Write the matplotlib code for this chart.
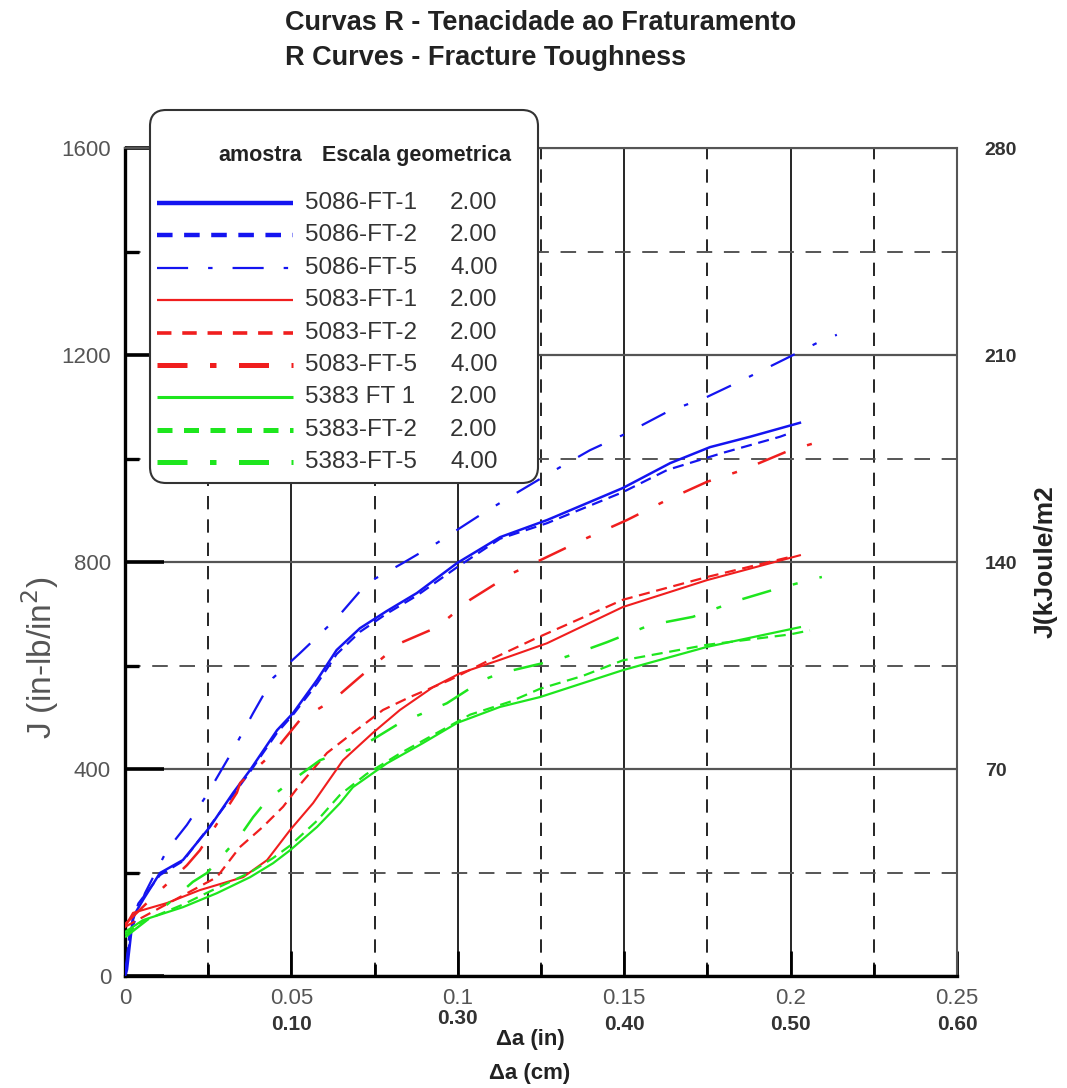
import numpy as np
import matplotlib
matplotlib.use("Agg")
import matplotlib.pyplot as plt
from matplotlib.ticker import FixedLocator
from matplotlib.patches import FancyBboxPatch
import matplotlib.transforms as mtransforms

plt.rcParams['font.family'] = ['Liberation Sans', 'DejaVu Sans']

# ---- data (da in inches, J in in-lb/in^2) ----
names = ["5086-FT-1", "5086-FT-2", "5086-FT-5",
         "5083-FT-1", "5083-FT-2", "5083-FT-5",
         "5383 FT 1", "5383-FT-2", "5383-FT-5"]
scales = ["2.00", "2.00", "4.00", "2.00", "2.00", "4.00", "2.00", "2.00", "4.00"]

x_5086_1 = [0, 0.0006, 0.0024, 0.0054, 0.0105, 0.0174, 0.0255, 0.0325, 0.0376, 0.0457,
            0.0505, 0.0577, 0.0636, 0.0706, 0.0786, 0.0877, 0.0998, 0.1127, 0.1268, 0.1496,
            0.1638, 0.1758, 0.1878, 0.2028]
J_5086_1 = [0, 12, 114, 147, 199, 224, 288, 354, 398, 475,
            508, 572, 630, 672, 705, 740, 798, 848, 881, 943,
            991, 1022, 1042, 1069]

x_5086_2 = [0, 0.0015, 0.004, 0.0105, 0.0174, 0.0255, 0.0325, 0.0376, 0.0457, 0.0505,
            0.0577, 0.0636, 0.0706, 0.0786, 0.0877, 0.0998, 0.1127, 0.1268, 0.1496, 0.163,
            0.1797, 0.1968, 0.1998]
J_5086_2 = [0, 90, 140, 195, 222, 290, 350, 395, 470, 505,
            565, 622, 665, 700, 735, 790, 845, 875, 935, 978,
            1011, 1042, 1049]

x_5086_5 = [0, 0.002, 0.006, 0.0126, 0.0186, 0.0246, 0.0325, 0.0385, 0.0445, 0.0526,
            0.0637, 0.0727, 0.0835, 0.0938, 0.1058, 0.1157, 0.1277, 0.1397, 0.1508,
            0.1629, 0.1749, 0.1857, 0.1989, 0.2097, 0.2139]
J_5086_5 = [10, 90, 160, 243, 292, 350, 437, 508, 576, 624,
            692, 759, 798, 837, 887, 926, 972, 1016, 1049,
            1090, 1119, 1152, 1194, 1229, 1239]

x_5083_1 = [0, 0.0024, 0.0126, 0.0225, 0.0355, 0.0427, 0.0496, 0.0565, 0.0655, 0.0745,
            0.0826, 0.0925, 0.1007, 0.1127, 0.1268, 0.1496, 0.1749, 0.2028]
J_5083_1 = [95, 122, 141, 166, 191, 224, 282, 334, 417, 470,
            514, 558, 585, 611, 643, 713, 765, 813]

x_5083_2 = [0, 0.01, 0.0276, 0.0345, 0.0414, 0.0475, 0.0526, 0.0607, 0.0685, 0.0775,
            0.0856, 0.0976, 0.1097, 0.1226, 0.1496, 0.1749, 0.2]
J_5083_2 = [95, 130, 191, 249, 288, 327, 370, 431, 470, 514,
            539, 572, 611, 650, 727, 771, 810]

x_5083_5 = [0, 0.008, 0.0186, 0.0225, 0.0336, 0.0346, 0.0445, 0.0526, 0.0625, 0.0706,
            0.0826, 0.0938, 0.1037, 0.1166, 0.1256, 0.1376, 0.1508, 0.1629, 0.1749,
            0.1857, 0.1998, 0.2127]
J_5083_5 = [100, 150, 214, 243, 354, 373, 431, 495, 533, 578,
            643, 674, 727, 779, 806, 843, 881, 920, 955,
            978, 1016, 1040]

x_5383_1 = [0, 0.0054, 0.0174, 0.0276, 0.0376, 0.0445, 0.0496, 0.0577, 0.0646, 0.0685,
            0.0787, 0.0895, 0.0998, 0.1127, 0.1247, 0.1496, 0.1749, 0.2028]
J_5383_1 = [85, 108, 133, 160, 191, 218, 243, 288, 334, 365,
            411, 450, 489, 520, 539, 591, 636, 674]

x_5383_2 = [0, 0.005, 0.0174, 0.0276, 0.0376, 0.0445, 0.0496, 0.0577, 0.0646, 0.0725,
            0.0826, 0.0938, 0.1037, 0.1157, 0.1247, 0.1376, 0.1496, 0.1749, 0.1998, 0.2058]
J_5383_2 = [80, 105, 138, 170, 200, 228, 252, 300, 350, 390,
            430, 470, 505, 530, 555, 580, 610, 640, 660, 668]

x_5383_5 = [0, 0.005, 0.013, 0.0204, 0.0246, 0.0345, 0.0385, 0.0427, 0.0505, 0.0586,
            0.0646, 0.0727, 0.0826, 0.0967, 0.1076, 0.1127, 0.1298, 0.1358, 0.1448,
            0.1577, 0.1706, 0.1848, 0.1947, 0.2079, 0.2094]
J_5383_5 = [75, 100, 140, 182, 199, 270, 307, 340, 379, 417,
            431, 450, 489, 527, 572, 585, 611, 624, 645,
            678, 694, 727, 746, 769, 771]

xs = [x_5086_1, x_5086_2, x_5086_5, x_5083_1, x_5083_2, x_5083_5, x_5383_1, x_5383_2, x_5383_5]
Js = [J_5086_1, J_5086_2, J_5086_5, J_5083_1, J_5083_2, J_5083_5, J_5383_1, J_5383_2, J_5383_5]

# axis ticks and labels
x_major = [0, 0.05, 0.1, 0.15, 0.2, 0.25]
x_major_lab = ["0", "0.05", "0.1", "0.15", "0.2", "0.25"]
x_minor = [0.025, 0.075, 0.125, 0.175, 0.225]
y_major = [0, 400, 800, 1200, 1600]
y_minor = [200, 600, 1000, 1400]
y2_ticks = [70, 140, 210, 280]
cm_pos = [0.05, 0.1, 0.15, 0.2, 0.25]
cm_lab = ["0.10", "0.30", "0.40", "0.50", "0.60"]

BLUE, RED, GREEN = "#1414f0", "#f01e1e", "#1ee61e"
colors = [BLUE] * 3 + [RED] * 3 + [GREEN] * 3
dash_ = (0, (5, 3))
dashdot_ = (0, (12, 9, 2, 9))
styles = ["-", dash_, dashdot_] * 3
# line widths in the plot and in the legend box
lw_plot = [1.8, 1.6, 1.6, 1.5, 1.6, 1.8, 1.6, 1.6, 1.8]
lw_leg = [3.2, 3.2, 1.6, 1.6, 2.6, 3.6, 2.2, 3.6, 3.6]
leg_styles = ["-", (0, (3.5, 2.6)), (0, (14, 9, 2, 9)),
              "-", (0, (4, 3)), (0, (6, 4.5, 1.3, 4.5)),
              "-", (0, (3, 2.3)), (0, (6, 4.5, 1.3, 4.5))]

W, H = 1067, 1088
fig = plt.figure(figsize=(W / 100, H / 100), dpi=100)
ax = fig.add_axes([125 / W, 1 - 976 / H, (957 - 125) / W, (976 - 148) / H])

for x, J, c, ls, lw in zip(xs, Js, colors, styles, lw_plot):
    ax.plot(x, J, color=c, linestyle=ls, lw=lw, zorder=3)

ax.set_xlim(0, 0.25)
ax.set_ylim(0, 1600)
ax.set_xticks(x_major)
ax.set_xticklabels(x_major_lab)
ax.set_xticks(x_minor, minor=True)
ax.set_yticks(y_major)
ax.set_yticklabels([str(v) for v in y_major])
ax.set_yticks(y_minor, minor=True)

ax.grid(which="major", axis="x", color="black", lw=1.2)
ax.grid(which="minor", axis="x", color="black", lw=1.2, linestyle=(0, (8, 6)))
ax.grid(which="major", axis="y", color="#555555", lw=1.6)
ax.grid(which="minor", axis="y", color="#555555", lw=1.4, linestyle=(0, (8, 6)))
ax.set_axisbelow(True)

ax.tick_params(which="both", direction="in", colors="black", labelcolor="#555555",
               labelsize=16, width=2)
ax.tick_params(axis="y", which="major", length=28, width=2.6, pad=10)
ax.tick_params(axis="y", which="minor", length=10, width=2.4)
ax.tick_params(axis="x", which="major", length=18, pad=9)
ax.tick_params(axis="x", which="minor", length=9)
ax.tick_params(top=False, right=False, which="both")

ax.spines["left"].set_linewidth(2.4)
ax.spines["bottom"].set_linewidth(2.4)
for s in ("top", "right"):
    ax.spines[s].set_color("#555555")
    ax.spines[s].set_linewidth(1.5)

# right axis in kJ/m2
ax2 = ax.twinx()
ax2.set_ylim(0, 280)
ax2.yaxis.set_major_locator(FixedLocator(y2_ticks))
ax2.tick_params(length=0, pad=20, labelsize=14, labelcolor="#333333")
for t in ax2.get_yticklabels():
    t.set_fontweight("bold")
for s in ax2.spines.values():
    s.set_visible(False)

# second row of x labels (cm)
cm_dy = [-49, -42, -49, -49, -49]
for p, lab, dy in zip(cm_pos, cm_lab, cm_dy):
    tr = mtransforms.offset_copy(ax.get_xaxis_transform(), fig=fig, x=0, y=dy, units="dots")
    ax.text(p, 0, lab, transform=tr, ha="center", va="center", fontsize=15,
            fontweight="bold", color="#333333")

fig.text(530 / W, 1 - 1040 / H, "Δa (in)", ha="center", va="center", fontsize=16,
         fontweight="bold", color="#222222")
fig.text(530 / W, 1 - 1074 / H, "Δa (cm)", ha="center", va="center", fontsize=16,
         fontweight="bold", color="#222222")
fig.text(40 / W, 1 - 658 / H, "J (in-lb/in$^2$)", rotation=90, ha="center", va="center",
         fontsize=24, color="#555555")
fig.text(1046 / W, 1 - 562 / H, "J(kJoule/m2", rotation=90, ha="center", va="center",
         fontsize=19, fontweight="bold", color="#222222")

fig.text(285 / W, 1 - 23 / H, "Curvas R - Tenacidade ao Fraturamento", ha="left",
         va="center", fontsize=19.5, fontweight="bold", color="#222222")
fig.text(285 / W, 1 - 58 / H, "R Curves - Fracture Toughness", ha="left",
         va="center", fontsize=19.5, fontweight="bold", color="#222222")

# legend box drawn in its own pixel-unit axes
lx0, ly0, lx1, ly1 = 148, 108, 540, 485
lg = fig.add_axes([lx0 / W, 1 - ly1 / H, (lx1 - lx0) / W, (ly1 - ly0) / H], zorder=5)
lg.set_xlim(0, lx1 - lx0)
lg.set_ylim(ly1 - ly0, 0)
lg.axis("off")
lg.add_patch(FancyBboxPatch((2, 2), lx1 - lx0 - 4, ly1 - ly0 - 4,
                            boxstyle="round,pad=0,rounding_size=16",
                            fc="white", ec="#333333", lw=1.5))
lg.text(154, 47, "amostra", ha="right", va="center", fontsize=15.5, fontweight="bold",
        color="#222222")
lg.text(174, 47, "Escala geometrica", ha="left", va="center", fontsize=15.5,
        fontweight="bold", color="#222222")
for i, (nm, sc, c, ls, lw) in enumerate(zip(names, scales, colors, leg_styles, lw_leg)):
    yy = 95 + i * 32.4
    lg.plot([9, 145], [yy, yy], color=c, linestyle=ls, lw=lw, solid_capstyle="butt",
            dash_capstyle="butt")
    lg.text(157, yy, nm, ha="left", va="center", fontsize=17.5, color="#333333")
    lg.text(302, yy, sc, ha="left", va="center", fontsize=17.5, color="#333333")

fig.savefig("out.png", dpi=100)
